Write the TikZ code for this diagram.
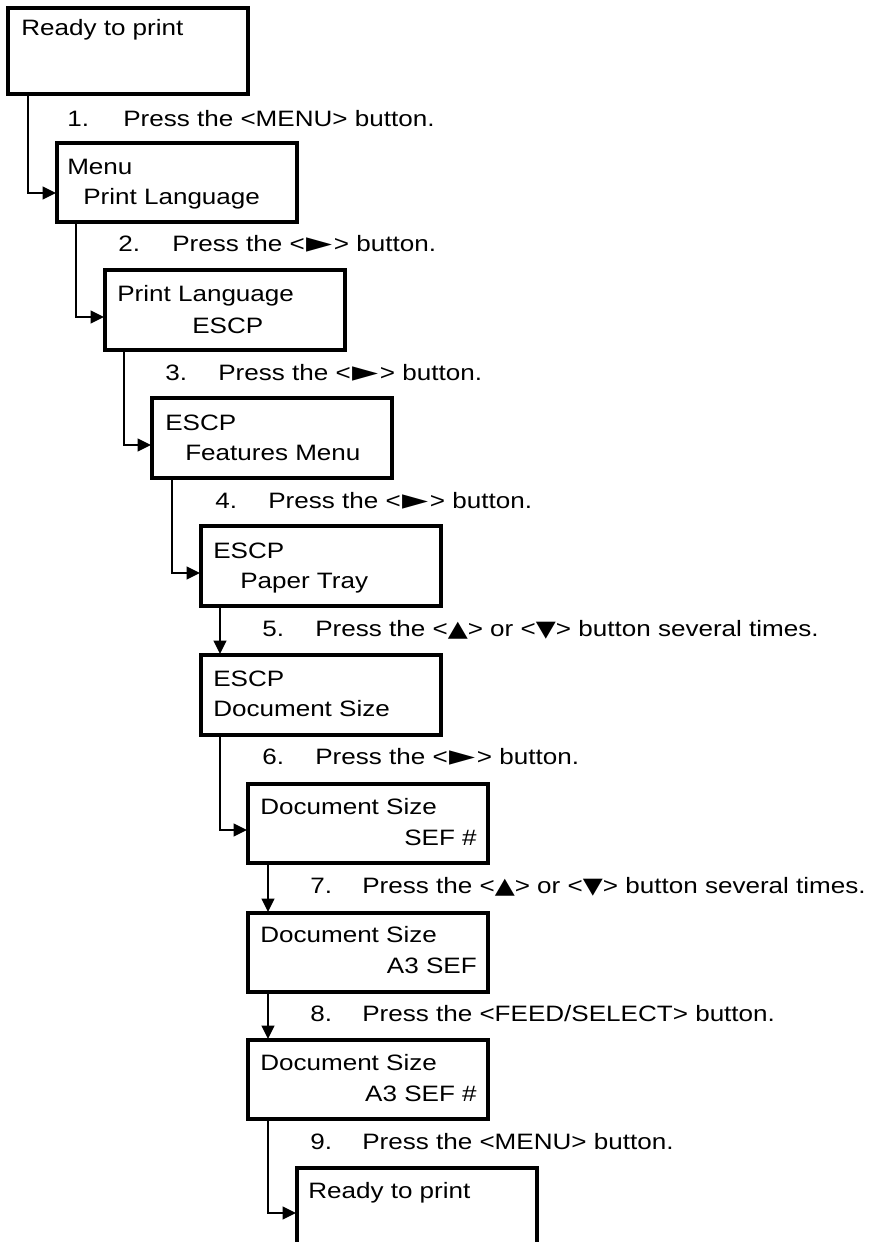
\documentclass[tikz,border=0pt]{standalone}
\usepackage{fontspec}
\setmainfont{Liberation Sans}[FakeStretch=1.17]
\newfontfamily\symf{DejaVu Sans}[FakeStretch=1.17]
\newcommand{\tri}[1]{{\symf #1}}
\newcommand{\rtri}{{\kern0.07em\symf\raisebox{-0.07em}{\scalebox{1.3}{►}}\kern0.07em}}
\usetikzlibrary{arrows.meta,calc}
\begin{document}
\begin{tikzpicture}[x=0.75pt,y=-0.75pt,
  box/.style={draw,line width=2.3pt,rectangle,anchor=north west,inner sep=0pt,outer sep=0pt,minimum width=180pt,minimum height=60pt},
  openbox/.style={rectangle,anchor=north west,inner sep=0pt,outer sep=0pt,minimum width=180pt,minimum height=70pt},
  boxline/.style={line width=2.3pt},
  txt/.style={anchor=base west,inner sep=0pt,font=\fontsize{16.7}{22.5}\selectfont},
  rtxt/.style={anchor=base east,inner sep=0pt,font=\fontsize{16.7}{22.5}\selectfont},
  conn/.style={line width=1.5pt,-{Triangle[length=10pt,width=9.5pt]}}]
\useasboundingbox (0,0) rectangle (887,1242);
% boxes
\node[box,minimum height=64.5pt] (b1) at (8,8) {};
\node[box,minimum height=59.25pt] (b2) at (57,143) {};
\node[box] (b3) at (105,270) {};
\node[box] (b4) at (152,398) {};
\node[box] (b5) at (201,526) {};
\node[box] (b6) at (201,655) {};
\node[box,minimum height=59.25pt] (b7) at (248,784) {};
\node[box,minimum height=59.25pt] (b8) at (248,913) {};
\node[box,minimum height=59.25pt] (b9) at (248,1040) {};
\node[openbox] (b10) at (297,1168) {};
\draw[boxline] (b10.south west) -- (b10.north west) -- (b10.north east) -- (b10.south east);
% box texts
\node[txt] (t1) at (21,35) {Ready to print};
\node[txt] (t2a) at (67,174) {Menu};
\node[txt] (t2b) at (83,204) {Print Language};
\node[txt] (t3a) at (117,301) {Print Language};
\node[txt] (t3b) at (192,333) {ESCP};
\node[txt] (t4a) at (165,430) {ESCP};
\node[txt] (t4b) at (185,460) {Features Menu};
\node[txt] (t5a) at (213,558) {ESCP};
\node[txt] (t5b) at (240,588) {Paper Tray};
\node[txt] (t6a) at (213,686) {ESCP};
\node[txt] (t6b) at (213,716) {Document Size};
\node[txt] (t7a) at (260,814) {Document Size};
\node[rtxt] (t7b) at (477,845) {SEF \#};
\node[txt] (t8a) at (260,942) {Document Size};
\node[rtxt] (t8b) at (477,973) {A3 SEF};
\node[txt] (t9a) at (260,1070) {Document Size};
\node[rtxt] (t9b) at (477,1101) {A3 SEF \#};
\node[txt] (t10) at (308,1198) {Ready to print};
% step texts
\node[txt] (s1n) at (67,126) {1.};
\node[txt] (s1t) at (123,126) {Press the <MENU> button.};
\node[txt] (s2n) at (118,251) {2.};
\node[txt] (s2t) at (172,251) {Press the <\rtri> button.};
\node[txt] (s3n) at (165,380) {3.};
\node[txt] (s3t) at (218,380) {Press the <\rtri> button.};
\node[txt] (s4n) at (215,508) {4.};
\node[txt] (s4t) at (268,508) {Press the <\rtri> button.};
\node[txt] (s5n) at (262,636) {5.};
\node[txt] (s5t) at (315,636) {Press the <\tri{▲}> or <\tri{▼}> button several times.};
\node[txt] (s6n) at (262,764) {6.};
\node[txt] (s6t) at (315,764) {Press the <\rtri> button.};
\node[txt] (s7n) at (310,893) {7.};
\node[txt] (s7t) at (362,893) {Press the <\tri{▲}> or <\tri{▼}> button several times.};
\node[txt] (s8n) at (310,1021) {8.};
\node[txt] (s8t) at (362,1021) {Press the <FEED/SELECT> button.};
\node[txt] (s9n) at (310,1149) {9.};
\node[txt] (s9t) at (362,1149) {Press the <MENU> button.};
% connectors
\draw[conn] ($(b1.south west)+(20,0)$) |- ($(b2.north west)+(-1,50)$);
\draw[conn] ($(b2.south west)+(19,0)$) |- ($(b3.north west)+(-1,47)$);
\draw[conn] ($(b3.south west)+(19,0)$) |- ($(b4.north west)+(-1,47)$);
\draw[conn] ($(b4.south west)+(20,0)$) |- ($(b5.north west)+(-1,47)$);
\draw[conn] ($(b5.south west)+(19,0)$) -- ($(b6.north west)+(19,-1)$);
\draw[conn] ($(b6.south west)+(19,0)$) |- ($(b7.north west)+(-1,46)$);
\draw[conn] ($(b7.south west)+(20,0)$) -- ($(b8.north west)+(20,-1)$);
\draw[conn] ($(b8.south west)+(20,0)$) -- ($(b9.north west)+(20,-1)$);
\draw[conn] ($(b9.south west)+(20,0)$) |- ($(b10.north west)+(-1,45)$);
\end{tikzpicture}
\end{document}
